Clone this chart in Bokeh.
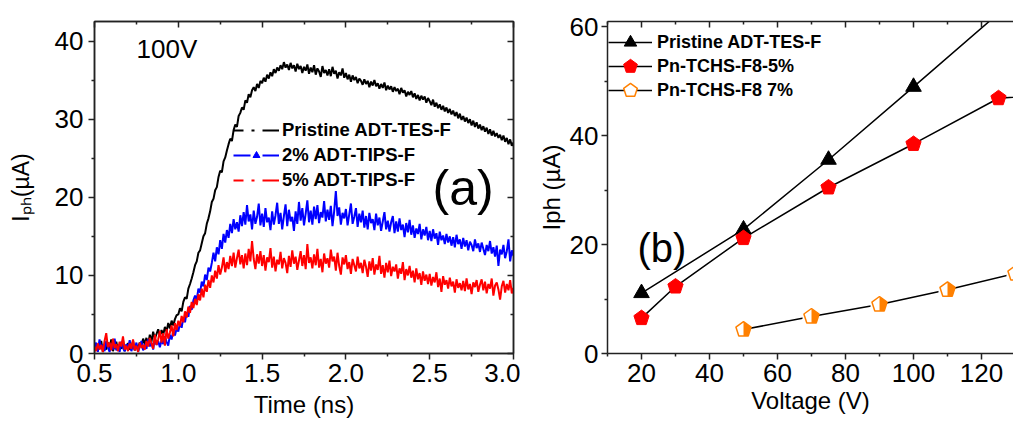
import math
from bokeh.plotting import figure
from bokeh.models import (Range1d, LinearAxis, Label, Legend, LegendItem,
                          FixedTicker, ColumnDataSource, PrintfTickFormatter)
from bokeh.layouts import row
from bokeh.transform import dodge
from bokeh.embed import file_html
from bokeh.resources import INLINE

FONT = "Liberation Sans"
NAN = float("nan")

# ---------------- panel (a) data : photocurrent transients at 100 V ----------------
time_ns = [round(0.50 + 0.01 * k, 2) for k in range(251)]

pristine_tes = [
    0.3, 1.2, 0.4, 0.9, 1.6, 0.2, 1.1, 0.5, 1.4, 0.7,
    1.8, 0.3, 1.0, 1.5, 0.4, 1.2, 0.6, 1.7, 0.3, 0.9,
    1.3, 0.5, 0.8, 1.6, 0.4, 1.1, 0.7, 1.4, 0.9, 1.9,
    1.2, 2.0, 1.1, 2.4, 1.5, 2.8, 1.9, 2.5, 3.1, 2.2,
    3.0, 2.4, 3.4, 2.8, 3.9, 3.2, 4.2, 3.6, 4.4, 4.9,
    5.0, 5.8, 5.4, 6.6, 7.2, 7.0, 8.3, 8.9, 9.6, 10.4,
    11.3, 11.8, 12.9, 13.2, 14.1, 15.0, 15.4, 16.6, 17.3, 18.2,
    19.4, 19.8, 20.9, 21.3, 22.6, 23.4, 23.2, 24.6, 25.1, 26.0,
    26.8, 27.5, 27.2, 28.6, 29.3, 29.0, 30.4, 30.8, 31.5, 31.2,
    32.4, 32.1, 33.2, 32.8, 33.7, 34.1, 33.6, 34.5, 34.0, 34.9,
    34.6, 35.3, 34.8, 35.7, 35.2, 36.0, 35.5, 36.4, 35.9, 36.6,
    36.2, 36.9, 36.4, 37.3, 36.6, 37.0, 36.3, 37.2, 36.5, 36.9,
    36.1, 37.1, 36.4, 36.8, 35.9, 36.7, 36.2, 37.0, 35.8, 36.6,
    36.0, 36.9, 35.7, 36.5, 36.1, 35.4, 36.8, 35.9, 36.3, 35.6,
    36.4, 35.5, 36.7, 35.8, 36.2, 35.2, 36.0, 35.6, 36.5, 35.3,
    35.9, 35.1, 35.7, 34.8, 35.6, 35.0, 35.4, 34.6, 35.2, 34.9,
    34.4, 35.1, 34.5, 34.9, 34.1, 34.8, 34.3, 35.0, 34.2, 34.6,
    33.9, 34.5, 34.0, 34.7, 33.7, 34.3, 33.8, 34.2, 33.5, 34.1,
    33.6, 33.9, 33.2, 34.0, 33.4, 33.7, 32.9, 33.5, 33.1, 33.6,
    32.8, 33.3, 32.6, 33.1, 32.4, 33.0, 32.5, 32.9, 32.1, 32.7,
    32.3, 31.8, 32.5, 31.6, 32.1, 31.4, 31.9, 31.2, 31.7, 31.0,
    31.5, 30.8, 31.3, 30.6, 31.1, 30.4, 30.9, 30.1, 30.7, 29.9,
    30.4, 29.7, 30.2, 29.5, 30.0, 29.2, 29.8, 29.0, 29.6, 28.8,
    29.3, 28.6, 29.1, 28.4, 28.9, 28.1, 28.7, 27.9, 28.5, 27.8,
    28.2, 27.6, 28.0, 27.3, 27.9, 27.1, 27.6, 26.8, 27.4, 26.6,
    27.0,
]

tips_2pct = [
    0.5, 1.4, 0.2, 1.8, 0.6, 1.1, 0.3, 1.6, 0.8, 0.2,
    1.3, 0.5, 1.9, 0.4, 1.0, 0.2, 1.5, 0.7, 0.3, 1.2,
    0.6, 1.7, 0.3, 1.1, 0.5, 1.4, 0.2, 0.9, 1.6, 0.4,
    1.2, 0.6, 1.8, 0.9, 1.4, 0.5, 2.0, 1.1, 1.6, 0.8,
    1.7, 1.2, 2.2, 1.5, 1.0, 2.4, 1.8, 2.9, 2.3, 3.2,
    2.8, 3.9, 3.3, 4.6, 4.0, 5.3, 4.7, 6.1, 5.6, 6.8,
    7.4, 6.9, 8.3, 7.8, 9.2, 8.6, 10.1, 9.4, 11.0, 10.5,
    11.6, 12.9, 11.8, 13.6, 12.7, 14.5, 13.4, 15.3, 14.2, 15.8,
    14.8, 16.6, 15.4, 17.2, 15.9, 16.8, 15.6, 17.7, 16.3, 18.1,
    16.5, 19.0, 16.9, 17.8, 15.9, 18.3, 16.6, 17.5, 19.2, 16.4,
    17.9, 16.2, 18.6, 16.8, 17.4, 15.8, 18.2, 16.5, 17.7, 19.3,
    16.6, 18.0, 15.9, 17.6, 19.1, 16.3, 18.4, 16.9, 17.5, 15.7,
    18.2, 16.6, 19.4, 17.0, 18.6, 16.4, 17.9, 19.6, 16.8, 18.3,
    16.5, 18.8, 17.2, 19.0, 16.7, 18.1, 17.4, 19.5, 16.9, 18.4,
    17.1, 18.9, 16.3, 18.2, 20.8, 17.6, 18.7, 16.5, 18.0, 17.3,
    18.5, 16.4, 17.8, 19.2, 16.6, 17.5, 18.6, 16.2, 17.9, 16.8,
    18.3, 16.1, 17.6, 15.9, 18.0, 16.7, 17.2, 15.8, 17.9, 16.4,
    17.4, 15.7, 16.9, 18.1, 15.9, 17.0, 15.6, 16.8, 17.6, 15.4,
    16.9, 15.6, 17.3, 15.8, 16.5, 14.9, 16.7, 15.5, 17.1, 15.2,
    16.4, 14.8, 16.0, 15.3, 16.6, 14.6, 15.9, 15.1, 16.2, 14.5,
    15.7, 14.4, 15.9, 14.7, 15.4, 13.9, 15.6, 14.5, 15.1, 14.0,
    15.3, 14.2, 15.0, 13.8, 14.9, 13.6, 15.2, 14.0, 14.6, 13.4,
    14.8, 13.7, 14.5, 13.2, 14.3, 13.9, 13.1, 14.6, 13.5, 14.1,
    13.0, 14.2, 13.4, 12.6, 13.9, 13.1, 14.4, 12.8, 13.6, 12.4,
    13.8, 11.2, 13.3, 12.7, 13.9, 12.2, 13.1, 14.6, 11.8, 13.2,
    12.5,
]

tips_5pct = [
    0.9, 0.3, 1.3, 0.5, 1.1, 0.2, 1.6, 2.6, 0.8, 1.4,
    0.4, 1.9, 0.7, 1.2, 0.3, 1.5, 0.9, 2.2, 0.5, 1.0,
    0.3, 1.3, 0.6, 1.8, 0.4, 1.0, 0.2, 1.4, 0.7, 1.1,
    0.5, 1.6, 0.9, 2.0, 1.3, 0.6, 2.4, 1.1, 1.8, 2.9,
    1.4, 2.6, 1.0, 3.1, 1.9, 2.7, 3.6, 2.2, 3.9, 3.0,
    4.2, 3.5, 4.8, 4.0, 5.4, 4.6, 6.0, 5.2, 6.6, 5.8,
    7.0, 6.2, 7.6, 6.8, 8.3, 7.2, 8.8, 7.9, 9.4, 8.4,
    10.0, 9.1, 10.6, 9.6, 11.3, 10.1, 11.0, 12.3, 10.4, 11.7,
    10.8, 12.5, 11.2, 12.9, 11.0, 12.2, 13.3, 11.4, 12.6, 10.9,
    12.8, 11.3, 13.4, 11.8, 14.4, 12.1, 10.8, 12.7, 11.5, 13.1,
    11.2, 12.6, 10.6, 12.3, 11.7, 13.5, 11.0, 12.4, 10.5, 12.0,
    11.4, 13.0, 10.9, 12.2, 11.6, 10.3, 12.5, 11.1, 13.2, 11.5,
    12.4, 10.7, 11.9, 13.1, 11.2, 12.6, 10.8, 14.0, 11.6, 12.3,
    10.9, 12.7, 11.3, 13.4, 11.0, 12.1, 10.4, 12.8, 11.5, 12.2,
    11.0, 13.3, 11.8, 12.4, 10.6, 12.9, 11.2, 10.1, 12.3, 11.4,
    12.6, 10.8, 11.7, 10.2, 12.1, 11.3, 10.5, 12.4, 10.9, 11.6,
    10.3, 12.0, 11.1, 9.8, 11.8, 10.6, 12.2, 10.1, 11.4, 10.7,
    12.5, 10.2, 11.3, 9.7, 11.6, 10.4, 11.9, 9.9, 11.1, 10.5,
    11.4, 9.6, 10.9, 10.2, 11.7, 9.4, 10.8, 10.0, 11.2, 9.7,
    10.6, 9.1, 10.9, 9.5, 10.3, 8.8, 10.5, 9.3, 10.1, 8.9,
    10.2, 8.7, 9.8, 9.1, 10.4, 8.5, 9.6, 7.9, 9.9, 8.8,
    9.4, 8.3, 9.7, 8.6, 9.2, 7.8, 9.5, 8.4, 9.0, 8.1,
    9.3, 8.0, 9.6, 8.2, 8.9, 7.6, 9.1, 8.5, 9.4, 7.9,
    8.8, 9.5, 8.1, 9.2, 7.7, 8.9, 8.3, 9.6, 7.4, 8.7,
    9.1, 8.2, 6.9, 8.6, 9.3, 7.8, 8.9, 8.1, 9.4, 7.7,
    8.4,
]

labels_a = ["Pristine ADT-TES-F", "2% ADT-TIPS-F", "5% ADT-TIPS-F"]
x_ticks_a = [0.5, 1.0, 1.5, 2.0, 2.5, 3.0]
y_ticks_a = [0, 10, 20, 30, 40]

# ---------------- panel (b) data : Iph versus voltage ----------------
volt_pristine = [20, 50, 75, 100, 125]
iph_pristine = [11.1, 22.8, 35.6, 49.0, 62.5]
volt_f8_5 = [20, 30, 50, 75, 100, 125, 150]
iph_f8_5 = [6.5, 12.3, 21.2, 30.5, 38.5, 46.9, 48.0]
volt_f8_7 = [50, 70, 90, 110, 130]
iph_f8_7 = [4.4, 6.8, 9.0, 11.7, 14.7]
labels_b = ["Pristine ADT-TES-F", "Pn-TCHS-F8-5%", "Pn-TCHS-F8 7%"]
x_ticks_b = [20, 40, 60, 80, 100, 120]
y_ticks_b = [0, 20, 40, 60]

ORANGE = "#ff8000"
TICK_SIZE = "26px"


def style_axis(ax):
    ax.axis_line_color = "#222222"
    ax.axis_line_width = 1.5
    ax.major_tick_line_color = "#222222"
    ax.minor_tick_line_color = "#222222"
    ax.major_tick_line_width = 1.5
    ax.minor_tick_line_width = 1.5
    ax.major_tick_out = 6
    ax.major_tick_in = 0
    ax.minor_tick_out = 3
    ax.minor_tick_in = 0
    ax.major_label_text_font = FONT
    ax.major_label_text_font_size = TICK_SIZE
    ax.major_label_text_color = "black"
    ax.axis_label_text_font = FONT
    ax.axis_label_text_font_style = "normal"
    ax.axis_label_text_color = "black"


def inner_axis(ticker, ticks):
    ax = LinearAxis(ticker=ticker)
    style_axis(ax)
    ax.major_tick_out = 0
    ax.major_tick_in = 6
    ax.minor_tick_out = 0
    ax.minor_tick_in = 3
    ax.major_label_overrides = {t: "" for t in ticks}
    ax.major_label_text_font_size = "2px"
    ax.major_label_standoff = 0
    return ax


def lbl(fig, text, x, y, size):
    fig.add_layout(Label(x=x, y=y, x_units="screen", y_units="screen", text=text,
                         text_align="left", text_baseline="alphabetic",
                         text_font=FONT, text_font_size=size, text_color="black"))


# ================= panel (a) =================
pa = figure(width=520, height=427, output_backend="svg", toolbar_location=None,
            x_range=Range1d(0.5, 3.0), y_range=Range1d(0, 42.5),
            min_border_left=94, min_border_right=7, min_border_top=18,
            min_border_bottom=72)
pa.grid.visible = False
pa.outline_line_color = "#222222"
pa.outline_line_width = 1.5

xt_a = FixedTicker(ticks=x_ticks_a, minor_ticks=[0.75, 1.25, 1.75, 2.25, 2.75])
yt_a = FixedTicker(ticks=y_ticks_a, minor_ticks=[5, 15, 25, 35])
pa.xaxis.ticker = xt_a
pa.yaxis.ticker = yt_a
pa.xaxis.formatter = PrintfTickFormatter(format="%.1f")
style_axis(pa.xaxis[0])
style_axis(pa.yaxis[0])
pa.xaxis.major_label_standoff = 4
pa.yaxis.major_label_standoff = 5
pa.xaxis.axis_label = "Time (ns)"
pa.xaxis.axis_label_text_font_size = "24px"
pa.xaxis.axis_label_standoff = 6
pa.yaxis.axis_label = "I\u209a\u2095(\u00b5A)"
pa.yaxis.axis_label_text_font_size = "23px"
pa.yaxis.axis_label_standoff = 18
pa.add_layout(inner_axis(xt_a, x_ticks_a), "above")
pa.add_layout(inner_axis(yt_a, y_ticks_a), "right")

pa.line(time_ns, pristine_tes, line_color="black", line_width=2)
pa.line(time_ns, tips_2pct, line_color="#0000ff", line_width=2)
pa.line(time_ns, tips_5pct, line_color="#ff0000", line_width=2)

# legend samples (single NaN row: nothing is drawn in the plot area)
lg_k = pa.line([NAN], [NAN], line_color="black", line_width=2, line_dash="10 8 3 8 17 40")
lg_b = pa.line([NAN], [NAN], line_color="#0000ff", line_width=2, line_dash="17 12 17 40")
lg_bm = pa.ngon([NAN], [NAN], radius=3, radius_units="screen", n=3,
                fill_color="#0000ff", line_color="#0000ff")
lg_r = pa.line([NAN], [NAN], line_color="#ff0000", line_width=2, line_dash="10 8 3 8 17 40")
leg_a = Legend(items=[LegendItem(label=labels_a[0], renderers=[lg_k]),
                      LegendItem(label=labels_a[1], renderers=[lg_b, lg_bm]),
                      LegendItem(label=labels_a[2], renderers=[lg_r])],
               location=(139, 162), border_line_color=None, background_fill_alpha=0,
               padding=0, margin=0, spacing=3, glyph_width=46, glyph_height=20,
               label_height=20, label_standoff=3, label_text_font=FONT,
               label_text_color="black",
               label_text_font_style="bold", label_text_font_size="18.5px")
pa.add_layout(leg_a)

lbl(pa, "100V", 42, 305, "26px")
lbl(pa, "(a)", 338, 166, "50px")

# ================= panel (b) =================
XB0 = 10.0
XB1 = 129.41
FRAME_WB = 406
px_per_v = FRAME_WB / (XB1 - XB0)

pb = figure(width=493, height=427, output_backend="svg", toolbar_location=None,
            x_range=Range1d(XB0, XB1), y_range=Range1d(0, 61),
            min_border_left=87, min_border_right=0, min_border_top=21,
            min_border_bottom=74)
pb.grid.visible = False
pb.outline_line_color = None

xt_b = FixedTicker(ticks=x_ticks_b, minor_ticks=[10, 30, 50, 70, 90, 110, 130])
yt_b = FixedTicker(ticks=y_ticks_b, minor_ticks=[10, 30, 50])
pb.xaxis.ticker = xt_b
pb.yaxis.ticker = yt_b
style_axis(pb.xaxis[0])
style_axis(pb.yaxis[0])
pb.xaxis.major_label_standoff = 4
pb.yaxis.major_label_standoff = 3
pb.xaxis.axis_label = "Voltage (V)"
pb.xaxis.axis_label_text_font_size = "24px"
pb.xaxis.axis_label_standoff = 2
pb.yaxis.axis_label = "Iph (\u00b5A)"
pb.yaxis.axis_label_text_font_size = "24px"
pb.yaxis.axis_label_standoff = 2
pb.add_layout(inner_axis(xt_b, x_ticks_b), "above")

R = 8
RT = 9
src_k = ColumnDataSource(dict(v=volt_pristine, i=iph_pristine))
src_r = ColumnDataSource(dict(v=volt_f8_5, i=iph_f8_5))
src_o = ColumnDataSource(dict(v=volt_f8_7, i=iph_f8_7))

l_k = pb.line('v', 'i', source=src_k, line_color="black", line_width=1.5)
l_r = pb.line('v', 'i', source=src_r, line_color="black", line_width=1.5)
l_o = pb.line('v', 'i', source=src_o, line_color="black", line_width=1.5)

m_k = pb.ngon('v', 'i', source=src_k, radius=RT, radius_units="screen", n=3,
              fill_color="black", line_color="black", line_width=1)
m_r = pb.ngon('v', 'i', source=src_r, radius=R, radius_units="screen", n=5,
              fill_color="#ff0000", line_color="#ff0000", line_width=1)
pb.ngon('v', 'i', source=src_o, radius=R, radius_units="screen", n=5,
        fill_color=ORANGE, line_color=None)
pb.rect(x=dodge('v', -(R + 1) / 2 / px_per_v, range=pb.x_range), y='i', source=src_o,
        width=R + 1, height=2 * R + 2, width_units="screen", height_units="screen",
        fill_color="white", line_color=None)
pb.ngon('v', 'i', source=src_o, radius=R, radius_units="screen", n=5,
        fill_color=None, line_color=ORANGE, line_width=1.5)
lg_o = pb.ngon([NAN], [NAN], radius=R, radius_units="screen", n=5,
               fill_color="white", line_color=ORANGE, line_width=1.5)

# one single-row legend per entry, so that the marker samples stay large
legend_rows_b = [(labels_b[0], [l_k, m_k], 293),
                 (labels_b[1], [l_r, m_r], 269),
                 (labels_b[2], [l_o, lg_o], 245)]
for text, rends, ypos in legend_rows_b:
    pb.add_layout(Legend(items=[LegendItem(label=text, renderers=rends)],
                         location=(1, ypos), border_line_color=None,
                         background_fill_alpha=0, padding=0, margin=0, spacing=0,
                         glyph_width=44, glyph_height=36, label_height=36,
                         label_standoff=5, label_text_font=FONT,
                         label_text_color="black", label_text_font_style="bold",
                         label_text_font_size="18px"))

lbl(pb, "(b)", 30, 106, "40px")

layout = row(pa, pb)
open("out.html", "w").write(file_html(layout, INLINE))
